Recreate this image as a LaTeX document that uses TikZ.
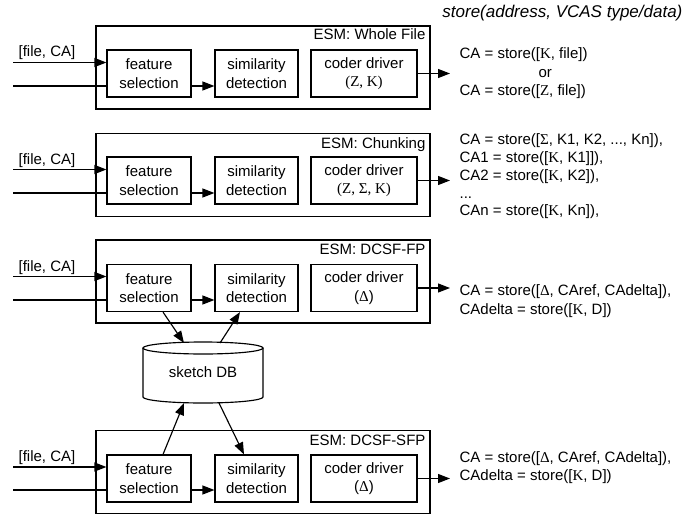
\documentclass[tikz,border=0pt]{standalone}
\usepackage{fontspec}
\setmainfont{Liberation Sans}
\newfontfamily\symfont{Liberation Serif}
\usetikzlibrary{arrows.meta,calc}
\newcommand{\symK}{{\symfont Κ}}
\newcommand{\symZ}{{\symfont Ζ}}
\newcommand{\symS}{{\symfont Σ}}
\newcommand{\symD}{{\symfont Δ}}
\begin{document}
\begin{tikzpicture}[x=1pt,y=-1pt,
  font=\fontsize{15}{18.5}\selectfont,
  line width=1.15pt,
  tip/.style={-{Triangle[length=12pt,width=9pt]}},
  outerbox/.style={draw, minimum width=334pt, minimum height=83pt, inner sep=0pt},
  inbox/.style={draw, minimum height=47pt, inner sep=0pt, align=center},
  esm/.style={anchor=base east, inner sep=0pt},
  inlabel/.style={anchor=base, inner sep=0pt},
  outtext/.style={anchor=west, inner sep=0pt, align=left}]
\useasboundingbox (0,0) rectangle (684,516);

\node[anchor=base east, inner sep=0pt, font=\fontsize{17}{20}\selectfont\itshape] (hdr) at (683,18) {store(address, VCAS type/data)};

% ---------- Block 1 ----------
\node[outerbox] (o1) at (263,67.5) {};
\node[esm] (e1) at (426,40) {ESM: Whole File};
\node[inbox, minimum width=84pt] (fs1) at (149,73.5) {feature\\selection};
\node[inbox, minimum width=83pt] (sd1) at (256.5,73.5) {similarity\\detection};
\node[inbox, minimum width=106pt] (cd1) at (364,73.5) {coder driver\\{\symfont(Ζ, Κ)}};
\coordinate (a1) at (13,62.5);
\coordinate (b1) at (13,86);
\node[inlabel] (l1) at (47,57) {[file, CA]};
\draw[tip] (a1) -- (a1 -| fs1.west);
\draw (b1) -- (b1 -| fs1.west);
\draw[tip] (b1 -| fs1.east) -- (b1 -| sd1.west);
\coordinate (c1) at (450,73.5);
\draw[tip] (cd1.east) -- (c1);
\node[outtext] (t1) at (459,73.5) {CA = store([\symK, file])\\\hspace*{79pt}or\\CA = store([\symZ, file])};

% ---------- Block 2 ----------
\node[outerbox] (o2) at (263,175) {};
\node[esm] (e2) at (426,148) {ESM: Chunking};
\node[inbox, minimum width=84pt] (fs2) at (149,180.5) {feature\\selection};
\node[inbox, minimum width=83pt] (sd2) at (256.5,180.5) {similarity\\detection};
\node[inbox, minimum width=106pt] (cd2) at (364,180.5) {coder driver\\{\symfont(Ζ, Σ, Κ)}};
\coordinate (a2) at (13,169.5);
\coordinate (b2) at (13,193);
\node[inlabel] (l2) at (47,164) {[file, CA]};
\draw[tip] (a2) -- (a2 -| fs2.west);
\draw (b2) -- (b2 -| fs2.west);
\draw[tip] (b2 -| fs2.east) -- (b2 -| sd2.west);
\coordinate (c2) at (450,180.5);
\draw[tip] (cd2.east) -- (c2);
\node[outtext, font=\fontsize{15}{17.8}\selectfont] (t2) at (459,176.5) {CA = store([\symS, K1, K2, ..., Kn]),\\CA1 = store([\symK, K1]]),\\CA2 = store([\symK, K2]),\\...\\CAn = store([\symK, Kn]),};

% ---------- Block 3 ----------
\node[outerbox] (o3) at (263,281.5) {};
\node[esm] (e3) at (426,254) {ESM: DCSF-FP};
\node[inbox, minimum width=84pt] (fs3) at (149,288) {feature\\selection};
\node[inbox, minimum width=83pt] (sd3) at (256.5,288) {similarity\\detection};
\node[inbox, minimum width=106pt] (cd3) at (364,288) {coder driver\\(\symD)};
\coordinate (a3) at (13,276.5);
\coordinate (b3) at (13,300);
\node[inlabel] (l3) at (47,271) {[file, CA]};
\draw[tip] (a3) -- (a3 -| fs3.west);
\draw (b3) -- (b3 -| fs3.west);
\draw[tip] (b3 -| fs3.east) -- (b3 -| sd3.west);
\coordinate (c3) at (450,288);
\draw[tip] (cd3.east) -- (c3);
\node[outtext] (t3) at (459,301) {CA = store([\symD, CAref, CAdelta]),\\CAdelta = store([\symK, D])};

% ---------- sketch DB ----------
\draw (143,348) -- (143,397) arc[start angle=180, end angle=0, x radius=60, y radius=6] -- (263,348);
\draw (203,348) ellipse[x radius=60, y radius=6];
\node[inner sep=0pt] (db) at (203,372) {sketch DB};
\coordinate (dbt1) at (184,343);
\coordinate (dbt2) at (220,343);
\coordinate (dbb1) at (184,403);
\coordinate (dbb2) at (219,403);
\draw[tip] ($(fs3.south)+(14,0)$) -- (dbt1);
\draw[tip] (dbt2) -- ($(sd3.south)+(-16.5,0)$);

% ---------- Block 4 ----------
\node[outerbox] (o4) at (263,472) {};
\node[esm] (e4) at (426,445) {ESM: DCSF-SFP};
\node[inbox, minimum width=84pt] (fs4) at (149,478.5) {feature\\selection};
\node[inbox, minimum width=83pt] (sd4) at (256.5,478.5) {similarity\\detection};
\node[inbox, minimum width=106pt] (cd4) at (364,478.5) {coder driver\\(\symD)};
\coordinate (a4) at (13,467);
\coordinate (b4) at (13,490);
\node[inlabel] (l4) at (47,461.5) {[file, CA]};
\draw[tip] (a4) -- (a4 -| fs4.west);
\draw (b4) -- (b4 -| fs4.west);
\draw[tip] (b4 -| fs4.east) -- (b4 -| sd4.west);
\coordinate (c4) at (450,478.5);
\draw[tip] (cd4.east) -- (c4);
\node[outtext] (t4) at (459,467.5) {CA = store([\symD, CAref, CAdelta]),\\CAdelta = store([\symK, D])};

\draw[tip] ($(fs4.north)+(14,0)$) -- (dbb1);
\draw[tip] (dbb2) -- ($(sd4.north)+(-12.5,0)$);
\end{tikzpicture}
\end{document}
